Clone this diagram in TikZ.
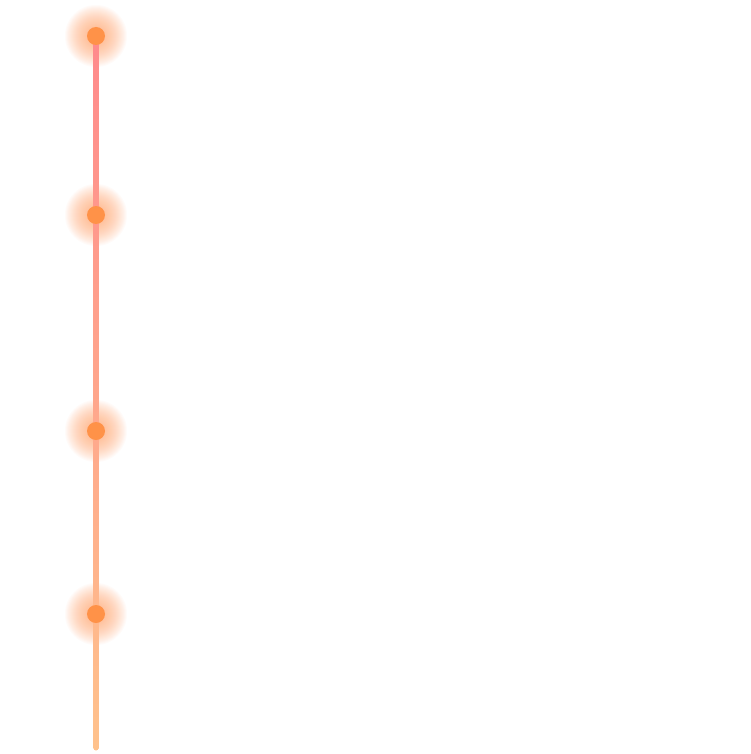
\documentclass[tikz,border=0pt]{standalone}
\definecolor{linetop}{RGB}{255,138,140}
\definecolor{linebot}{RGB}{255,194,140}
\definecolor{dotc}{RGB}{255,146,72}
\definecolor{glowc}{RGB}{255,165,105}
\tikzset{
  dotnode/.style={circle, fill=dotc, inner sep=0pt, minimum size=18pt},
  glowring/.style={fill=glowc, fill opacity=0.04}
}
\begin{document}
\begin{tikzpicture}[x=1pt,y=-1pt]
\useasboundingbox[fill=white] (0,0) rectangle (750,754);
\foreach \yy in {36,215,431,614}{
  \foreach \r in {8,9,...,31}{
    \fill[glowring] (96,\yy) circle (\r);
  }
}
\coordinate (end) at (96,748);
\shade[top color=linetop, bottom color=linebot] (93.5,36) rectangle (98.5,748);
\fill[linebot] (end) circle (2.5);
\node[dotnode] (d1) at (96,36) {};
\node[dotnode] (d2) at (96,215) {};
\node[dotnode] (d3) at (96,431) {};
\node[dotnode] (d4) at (96,614) {};
\end{tikzpicture}
\end{document}
